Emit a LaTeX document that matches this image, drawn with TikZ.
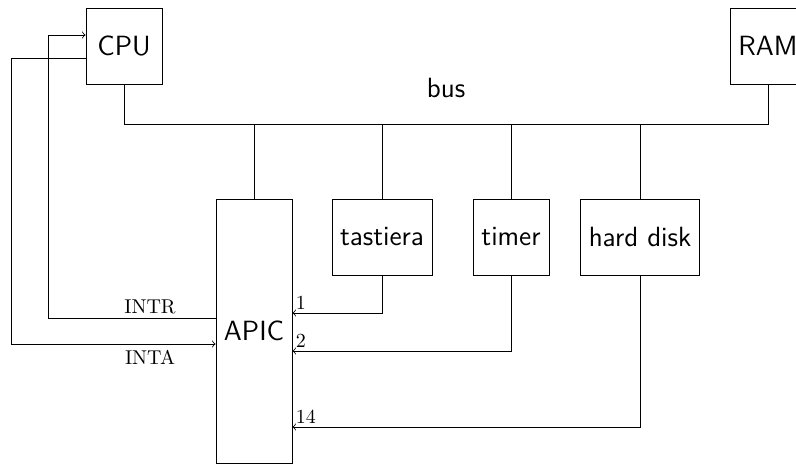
\documentclass[tikz,border=0pt]{standalone}
\begin{document}
\begin{tikzpicture}[x=0.5pt,y=-0.5pt,
  box/.style={draw, font=\sffamily\fontsize{13.9}{16}\selectfont, inner sep=0pt, minimum height=38pt},
  lbl/.style={font=\normalfont, inner sep=1.5pt},
  >=to]
\useasboundingbox (0,0) rectangle (796,468);
\node[box, minimum width=38pt] (CPU) at (124,46) {CPU};
\node[box, minimum width=38pt] (RAM) at (768,46) {RAM};
\node[box, minimum width=38pt, minimum height=132pt] (APIC) at (254,331) {APIC};
\node[box, minimum width=50pt] (tast) at (382,237) {tastiera};
\node[box, minimum width=38pt] (timer) at (511,237) {timer};
\node[box, minimum width=59.5pt] (hd) at (640,237) {hard disk};
\node[font=\sffamily\fontsize{13.9}{16}\selectfont] (bus) at (446,88) {bus};
% bus
\coordinate (busL) at (124,124);
\coordinate (busR) at (768,124);
\draw (CPU.south) -- (busL) -- (busR) -- (RAM.south);
\draw (APIC.north) -- (APIC.north |- busL);
\draw (tast.north) -- (tast.north |- busL);
\draw (timer.north) -- (timer.north |- busL);
\draw (hd.north) -- (hd.north |- busL);
% interrupt lines
\coordinate (k1) at (382,313);
\coordinate (k2) at (511,351);
\coordinate (k14) at (640,427);
\draw[->] (tast.south) -- (k1) -- (APIC.east |- k1) node[lbl, anchor=south west] {1};
\draw[->] (timer.south) -- (k2) -- (APIC.east |- k2) node[lbl, anchor=south west] {2};
\draw[->] (hd.south) -- (k14) -- (APIC.east |- k14) node[lbl, anchor=south west] {14};
% INTR
\coordinate (intrB) at (48.7,318);
\coordinate (intrT) at (48.7,35);
\draw[->] (APIC.west |- intrB) -- (intrB) -- (intrT) -- (CPU.west |- intrT);
\node[lbl, anchor=south] (intr) at (150,317) {INTR};
% INTA
\coordinate (intaT) at (11,58);
\coordinate (intaB) at (11,344);
\draw[->] (CPU.west |- intaT) -- (intaT) -- (intaB) -- (APIC.west |- intaB);
\node[lbl, anchor=north] (inta) at (150,347) {INTA};
\end{tikzpicture}
\end{document}
